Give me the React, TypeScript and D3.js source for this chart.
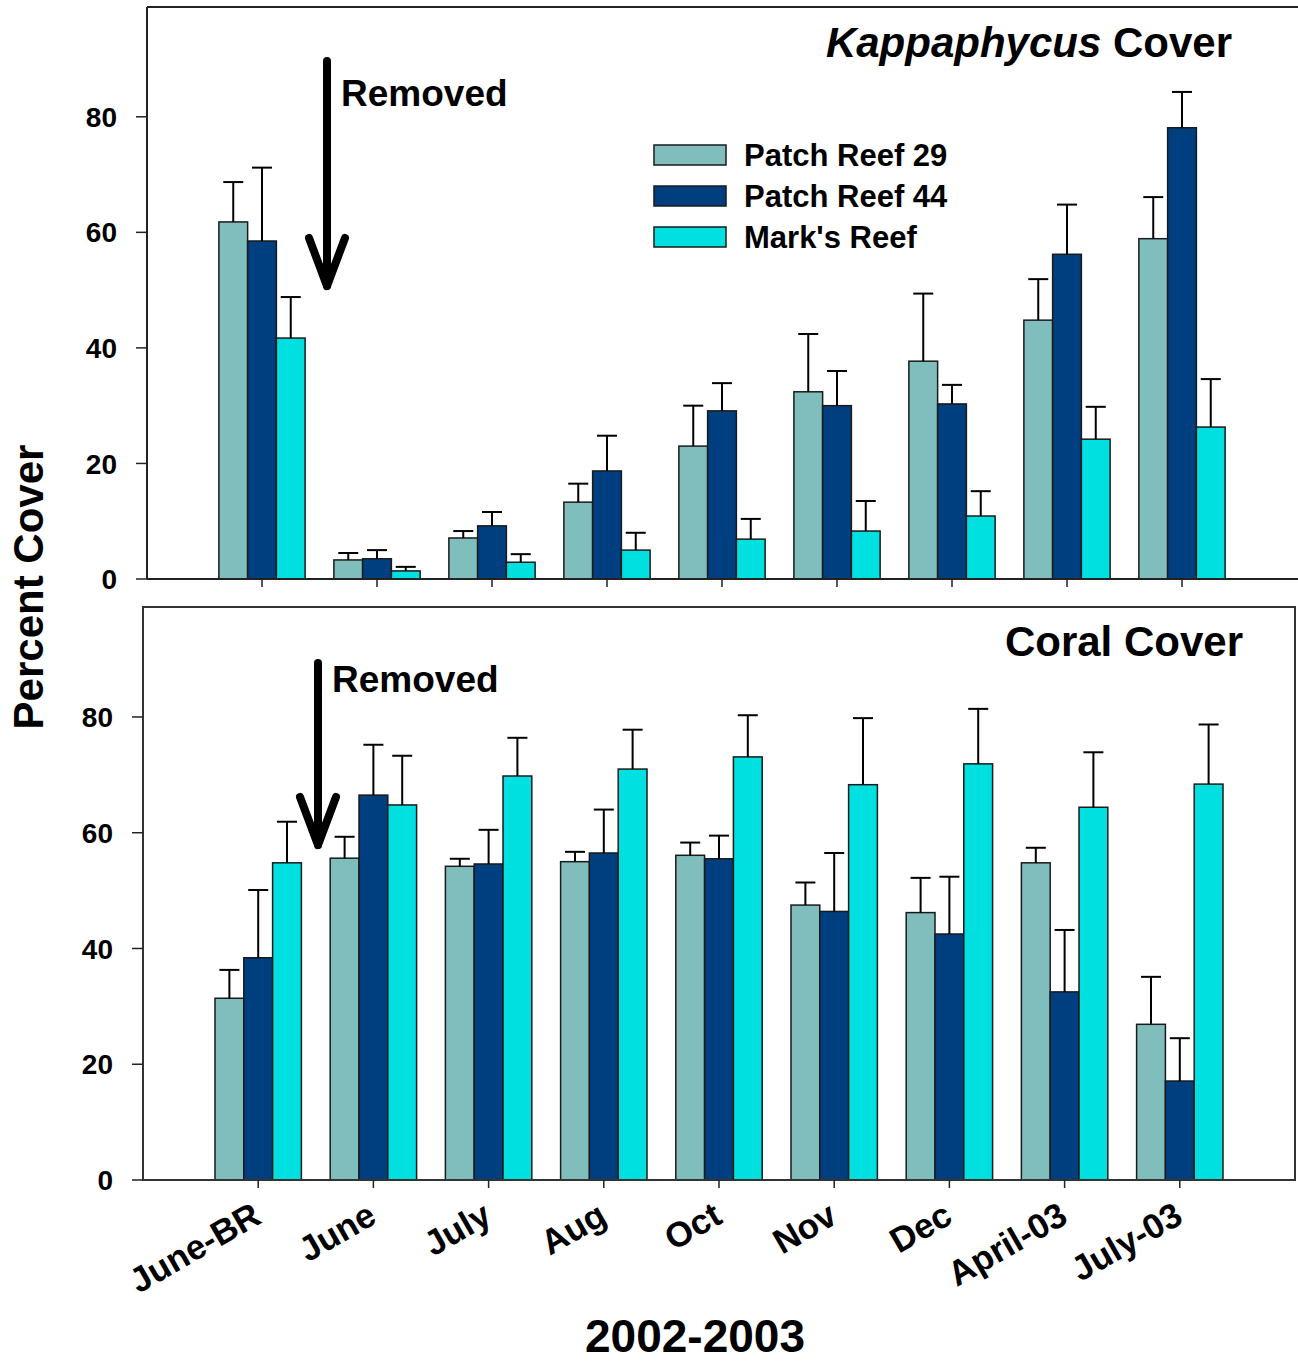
import * as d3 from 'd3';

const months = ['June-BR', 'June', 'July', 'Aug', 'Oct', 'Nov', 'Dec', 'April-03', 'July-03'];
const reefs = ['Patch Reef 29', 'Patch Reef 44', "Mark's Reef"];
const reefColors = ['#80BEBE', '#003F7F', '#00E0E0'];
const yTicks = [0, 20, 40, 60, 80];

// Kappaphycus cover (mean, SE)
const kappaP29 = [61.8, 3.3, 7.1, 13.3, 23.0, 32.4, 37.7, 44.8, 58.9];
const kappaP29Se = [6.9, 1.2, 1.2, 3.2, 7.0, 10.0, 11.7, 7.1, 7.2];
const kappaP44 = [58.5, 3.5, 9.2, 18.7, 29.1, 30.0, 30.3, 56.2, 78.1];
const kappaP44Se = [12.7, 1.5, 2.4, 6.1, 4.8, 6.0, 3.3, 8.6, 6.2];
const kappaMark = [41.7, 1.4, 2.9, 5.0, 6.9, 8.3, 10.9, 24.2, 26.3];
const kappaMarkSe = [7.1, 0.7, 1.4, 3.0, 3.5, 5.2, 4.3, 5.6, 8.3];

// Coral cover (mean, SE)
const coralP29 = [31.4, 55.6, 54.2, 55.0, 56.1, 47.5, 46.2, 54.8, 26.9];
const coralP29Se = [4.9, 3.7, 1.3, 1.7, 2.2, 3.9, 6.0, 2.6, 8.2];
const coralP44 = [38.4, 66.5, 54.6, 56.5, 55.5, 46.4, 42.5, 32.5, 17.1];
const coralP44Se = [11.7, 8.7, 5.9, 7.5, 4.0, 10.1, 9.9, 10.7, 7.4];
const coralMark = [54.8, 64.8, 69.8, 71.0, 73.1, 68.3, 71.9, 64.4, 68.4];
const coralMarkSe = [7.1, 8.5, 6.6, 6.8, 7.2, 11.5, 9.5, 9.5, 10.3];

const FONT = '"Liberation Sans", Arial, sans-serif';

type PanelProps = {
  means: number[][];
  ses: number[][];
  left: number;
  right: number;
  top: number;
  bottom: number;
  tickLabelX: number;
  boxed: boolean;
  arrowX: number;
  arrowTop: number;
  arrowTip: number;
  removedY: number;
  showXLabels: boolean;
};

function Panel({ means, ses, left, right, top, bottom, tickLabelX, boxed, arrowX, arrowTop, arrowTip, removedY, showXLabels }: PanelProps) {
  const x = d3.scaleLinear().domain([0, 10]).range([left, right]);
  const y = d3.scaleLinear().domain([0, 99]).range([bottom, top]);
  const slot = x(1) - x(0);
  const bw = slot * 0.25;

  return (
    <g>
      {/* Bars */}
      {means.map((series, s) =>
        series.map((v, i) => {
          const x0 = x(i + 1) + (s - 1.5) * bw;
          return (
            <rect
              key={`b-${s}-${i}`}
              x={x0}
              y={y(v)}
              width={bw}
              height={y(0) - y(v)}
              fill={reefColors[s]}
              stroke="#1a1a1a"
              strokeWidth={1.5}
            />
          );
        })
      )}
      {/* Error bars (upper only) */}
      {means.map((series, s) =>
        series.map((v, i) => {
          const cx = x(i + 1) + (s - 1) * bw;
          const hi = y(v + ses[s][i]);
          return (
            <g key={`e-${s}-${i}`} stroke="#000" strokeWidth={2}>
              <line x1={cx} x2={cx} y1={y(v)} y2={hi} />
              <line x1={cx - 10} x2={cx + 10} y1={hi} y2={hi} />
            </g>
          );
        })
      )}

      {/* Frame */}
      {boxed ? (
        <rect x={left} y={top} width={right - left} height={bottom - top} fill="none" stroke="#333" strokeWidth={2} />
      ) : (
        <g stroke="#222" strokeWidth={2}>
          <line x1={left} x2={right + 2} y1={top} y2={top} />
          <line x1={left} x2={left} y1={top} y2={bottom} />
          <line x1={left} x2={right + 2} y1={bottom} y2={bottom} />
        </g>
      )}

      {/* Y axis ticks */}
      {yTicks.map((t) => (
        <g key={`yt-${t}`}>
          <line x1={left - 11} x2={left} y1={y(t)} y2={y(t)} stroke="#222" strokeWidth={1.5} />
          <text
            x={tickLabelX}
            y={y(t)}
            dy="0.36em"
            textAnchor="end"
            fontFamily={FONT}
            fontWeight="bold"
            fontSize={28}
          >
            {t}
          </text>
        </g>
      ))}

      {/* X ticks */}
      {months.map((m, i) => (
        <line key={`xt-${m}`} x1={x(i + 1)} x2={x(i + 1)} y1={bottom} y2={bottom + 8} stroke="#222" strokeWidth={1.5} />
      ))}

      {showXLabels &&
        months.map((m, i) => (
          <text
            key={`xl-${m}`}
            transform={`translate(${x(i + 1) + 5},${bottom + 42}) rotate(-30)`}
            textAnchor="end"
            fontFamily={FONT}
            fontWeight="bold"
            fontSize={35}
          >
            {m}
          </text>
        ))}

      {/* Removed arrow */}
      <g stroke="#000" strokeWidth={8} strokeLinecap="round" strokeLinejoin="round" fill="none">
        <line x1={arrowX} x2={arrowX} y1={arrowTop} y2={arrowTip} />
        <polyline points={`${arrowX - 18},${arrowTip - 48} ${arrowX},${arrowTip} ${arrowX + 18},${arrowTip - 48}`} />
      </g>
      <text x={arrowX + 14} y={removedY} fontFamily={FONT} fontWeight="bold" fontSize={37}>
        Removed
      </text>
    </g>
  );
}

export default function App() {
  return (
    <svg width={1298} height={1363} style={{ position: 'absolute', left: 0, top: 0, background: '#fff' }}>
      <Panel
        means={[kappaP29, kappaP44, kappaMark]}
        ses={[kappaP29Se, kappaP44Se, kappaMarkSe]}
        left={147}
        right={1297}
        top={7}
        bottom={579}
        tickLabelX={117}
        boxed={false}
        arrowX={327}
        arrowTop={61}
        arrowTip={286}
        removedY={106}
        showXLabels={false}
      />
      <Panel
        means={[coralP29, coralP44, coralMark]}
        ses={[coralP29Se, coralP44Se, coralMarkSe]}
        left={143}
        right={1295}
        top={607}
        bottom={1180}
        tickLabelX={113}
        boxed={true}
        arrowX={318}
        arrowTop={663}
        arrowTip={845}
        removedY={692}
        showXLabels={true}
      />

      {/* Panel titles */}
      <text x={1232} y={57} textAnchor="end" fontFamily={FONT} fontWeight="bold" fontSize={42}>
        <tspan fontStyle="italic">Kappaphycus</tspan> Cover
      </text>
      <text x={1243} y={656} textAnchor="end" fontFamily={FONT} fontWeight="bold" fontSize={42}>
        Coral Cover
      </text>

      {/* Legend */}
      {reefs.map((r, i) => (
        <g key={r} transform={`translate(654,${145 + i * 41})`}>
          <rect width={72} height={20} fill={reefColors[i]} stroke="#1a1a1a" strokeWidth={1.5} />
          <text x={90} y={10} dy="0.36em" fontFamily={FONT} fontWeight="bold" fontSize={31}>
            {r}
          </text>
        </g>
      ))}

      {/* Axis titles */}
      <text
        transform="translate(43,587) rotate(-90)"
        textAnchor="middle"
        fontFamily={FONT}
        fontWeight="bold"
        fontSize={42}
      >
        Percent Cover
      </text>
      <text x={695} y={1352} textAnchor="middle" fontFamily={FONT} fontWeight="bold" fontSize={46}>
        2002-2003
      </text>
    </svg>
  );
}
